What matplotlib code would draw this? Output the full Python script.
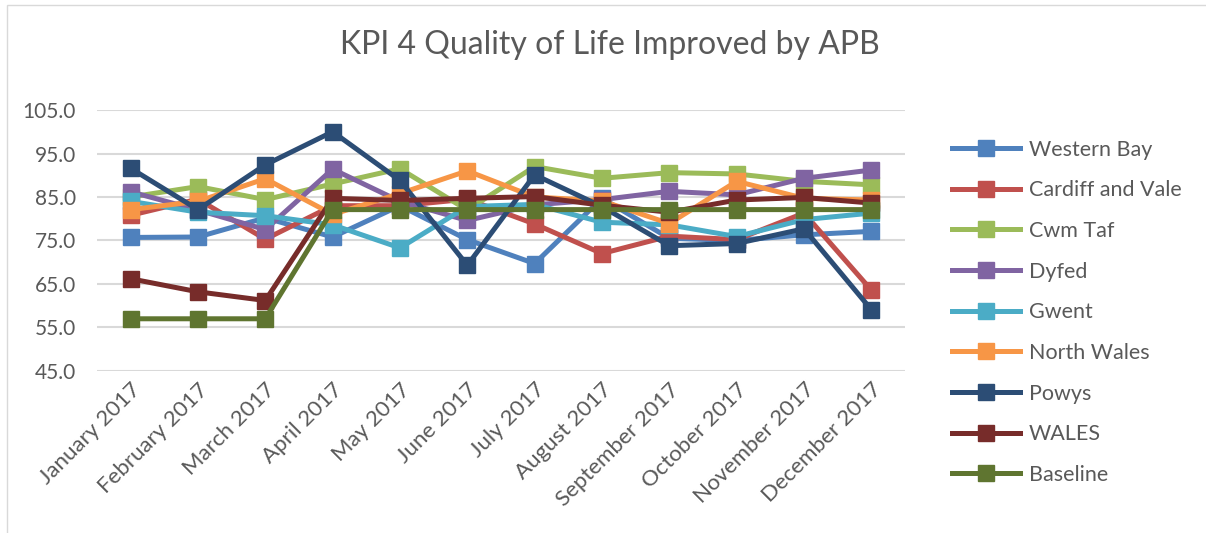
import matplotlib
matplotlib.use("Agg")
import matplotlib.pyplot as plt
from matplotlib.patches import Rectangle

# Dane
months = ["January 2017", "February 2017", "March 2017", "April 2017", "May 2017",
          "June 2017", "July 2017", "August 2017", "September 2017", "October 2017",
          "November 2017", "December 2017"]

western_bay = [75.7, 75.8, 80.2, 75.8, 83.0, 75.2, 69.7, 84.7, 75.5, 75.0, 76.3, 77.1]
cardiff_vale = [80.8, 84.5, 75.3, 83.0, 83.0, 84.5, 78.8, 72.0, 76.0, 75.2, 81.3, 63.6]
cwm_taf = [85.0, 87.4, 84.4, 88.0, 91.5, 82.0, 92.0, 89.3, 90.6, 90.3, 88.6, 87.8]
dyfed = [86.2, 82.0, 77.5, 91.4, 84.0, 79.6, 83.2, 84.4, 86.3, 85.5, 89.3, 91.2]
gwent = [84.0, 81.5, 80.7, 78.6, 73.3, 82.8, 83.3, 79.2, 78.6, 75.9, 79.8, 81.3]
north_wales = [82.1, 84.0, 89.2, 81.0, 85.8, 91.0, 85.0, 84.1, 78.9, 88.6, 84.7, 84.3]
powys = [91.6, 82.1, 92.4, 100.0, 88.8, 69.3, 90.1, 82.8, 73.8, 74.3, 77.7, 59.1]
wales = [66.2, 63.2, 61.2, 84.7, 84.2, 84.7, 85.1, 83.1, 81.5, 84.3, 84.9, 83.6]
baseline = [57.0, 57.0, 57.0, 82.1, 82.1, 82.1, 82.1, 82.1, 82.1, 82.1, 82.1, 82.1]

series = [
    ("Western Bay", western_bay, "#4F81BD"),
    ("Cardiff and Vale", cardiff_vale, "#C0504D"),
    ("Cwm Taf", cwm_taf, "#9BBB59"),
    ("Dyfed", dyfed, "#8064A2"),
    ("Gwent", gwent, "#4BACC6"),
    ("North Wales", north_wales, "#F79646"),
    ("Powys", powys, "#2C4D75"),
    ("WALES", wales, "#772C2A"),
    ("Baseline", baseline, "#5F7530"),
]

plt.rcParams["font.family"] = ["Lato", "DejaVu Sans"]
txt = "#595959"

fig = plt.figure(figsize=(12.06, 5.33), dpi=100)
ax = fig.add_axes([0.0804, 0.304, 0.670, 0.4896])

x = list(range(len(months)))
for name, vals, col in series:
    ax.plot(x, vals, color=col, lw=3.6, marker="s", markersize=11,
            markeredgecolor=col, label=name, solid_joinstyle="miter")

yt = [45, 55, 65, 75, 85, 95, 105]
ax.set_xlim(-0.5, len(months) - 0.5)
ax.set_ylim(45, 105)
ax.set_yticks(yt)
ax.set_yticklabels([f"{v:.1f}" for v in yt])
ax.set_xticks(x)
ax.set_xticklabels(months, rotation=45, ha="right", va="top", rotation_mode="anchor")
ax.grid(axis="y", color="#D9D9D9", lw=1.5)
ax.set_axisbelow(True)
for s in ax.spines.values():
    s.set_visible(False)
ax.tick_params(axis="both", length=0, colors=txt)
ax.tick_params(axis="y", pad=15, labelsize=15)
ax.tick_params(axis="x", pad=6, labelsize=16)

fig.text(0.506, 0.916, "KPI 4 Quality of Life Improved by APB", ha="center", va="center",
         fontsize=23, color=txt)

fig.legend(loc="center left", bbox_to_anchor=(0.789, 0.414), frameon=False,
           fontsize=15.5, labelcolor=txt, handlelength=3.2, labelspacing=0.96,
           handletextpad=0.4, borderpad=0, borderaxespad=0)

# ramka wykresu
fig.patches.append(Rectangle((0.006, -0.01), 1.2, 1.0, transform=fig.transFigure,
                             fill=False, edgecolor="#D9D9D9", lw=1))

fig.savefig("out.png", dpi=100)
